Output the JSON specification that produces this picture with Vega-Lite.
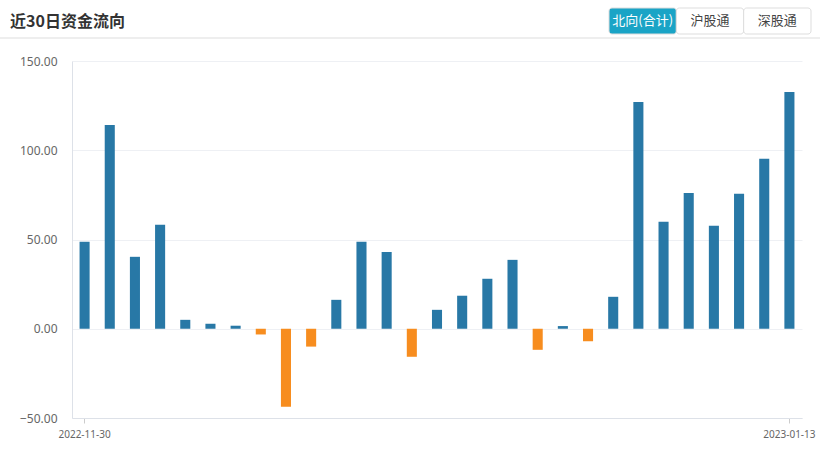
{
  "$schema": "https://vega.github.io/schema/vega-lite/v6.json",
  "width": 730,
  "height": 357,
  "autosize": {"type": "none"},
  "padding": {"left": 72, "top": 61, "right": 18, "bottom": 32},
  "background": "white",
  "config": {"view": {"stroke": null}, "font": "Noto Sans"},
  "title": {"text": "近30日资金流向", "anchor": "start", "frame": "group", "dx": -62, "dy": 19, "baseline": "bottom", "offset": -19, "fontSize": 16, "fontWeight": "bold", "color": "#333333", "font": "Noto Sans CJK SC"},
  "layer": [
    {
      "data": {"values": [
        {"date": "2022-11-30", "flow": 48.7},
        {"date": "2022-12-01", "flow": 114.2},
        {"date": "2022-12-02", "flow": 40.3},
        {"date": "2022-12-05", "flow": 58.2},
        {"date": "2022-12-06", "flow": 5.0},
        {"date": "2022-12-07", "flow": 2.8},
        {"date": "2022-12-08", "flow": 1.7},
        {"date": "2022-12-09", "flow": -3.2},
        {"date": "2022-12-12", "flow": -43.7},
        {"date": "2022-12-13", "flow": -10.0},
        {"date": "2022-12-14", "flow": 16.2},
        {"date": "2022-12-15", "flow": 48.7},
        {"date": "2022-12-16", "flow": 43.0},
        {"date": "2022-12-19", "flow": -15.7},
        {"date": "2022-12-20", "flow": 10.6},
        {"date": "2022-12-21", "flow": 18.5},
        {"date": "2022-12-22", "flow": 28.0},
        {"date": "2022-12-23", "flow": 38.6},
        {"date": "2022-12-29", "flow": -11.8},
        {"date": "2022-12-30", "flow": 1.5},
        {"date": "2023-01-03", "flow": -7.0},
        {"date": "2023-01-04", "flow": 17.9},
        {"date": "2023-01-05", "flow": 127.0},
        {"date": "2023-01-06", "flow": 60.0},
        {"date": "2023-01-09", "flow": 76.1},
        {"date": "2023-01-10", "flow": 57.7},
        {"date": "2023-01-11", "flow": 75.6},
        {"date": "2023-01-12", "flow": 95.2},
        {"date": "2023-01-13", "flow": 132.7}
      ]},
      "encoding": {
        "x": {"field": "date", "type": "ordinal", "sort": null,
          "scale": {"paddingInner": 0, "paddingOuter": 0},
          "axis": {"title": null, "values": ["2022-11-30", "2023-01-13"], "labelAngle": 0, "labelFontSize": 10, "labelColor": "#666666", "tickColor": "#cccccc", "tickSize": 5, "labelPadding": 6, "domainColor": "#dde1e8", "grid": false}}
      },
      "layer": [
        {
          "mark": {"type": "bar", "width": {"band": 0.4}},
          "encoding": {
            "y": {"field": "flow", "type": "quantitative",
              "scale": {"domain": [-50, 150], "nice": false},
              "axis": {"title": null, "values": [-50, 0, 50, 100, 150], "format": ".2f", "ticks": false, "labelPadding": 15, "labelFontSize": 12, "labelColor": "#666666", "domainColor": "#dde1e8", "gridColor": "#eef0f4"}},
            "color": {"condition": {"test": "datum.flow < 0", "value": "#f78d1f"}, "value": "#2878a6"}
          }
        },
        {
          "mark": {"type": "rule", "color": "#888888", "strokeWidth": 1},
          "encoding": {"y": {"datum": 0, "type": "quantitative"}}
        }
      ]
    },
    {
      "data": {"values": [
        {"button": "北向(合计)", "active": true},
        {"button": "沪股通", "active": false},
        {"button": "深股通", "active": false}
      ]},
      "encoding": {
        "x": {"field": "button", "type": "nominal", "sort": null, "scale": {"type": "band", "range": [537, 739], "paddingInner": 0, "paddingOuter": 0}, "axis": null},
        "y": {"datum": "按钮", "type": "nominal", "scale": {"type": "band", "range": [-53, -27], "paddingInner": 0, "paddingOuter": 0}, "axis": null}
      },
      "layer": [
        {
          "mark": {"type": "rect", "cornerRadius": 3, "stroke": "#dddddd", "strokeWidth": 1},
          "encoding": {
            "color": {"condition": {"test": "datum.active", "value": "#1aa4c6"}, "value": "#ffffff"}
          }
        },
        {
          "mark": {"type": "text", "fontSize": 13, "font": "Noto Sans CJK SC", "align": "center", "baseline": "middle"},
          "encoding": {
            "text": {"field": "button"},
            "color": {"condition": {"test": "datum.active", "value": "#ffffff"}, "value": "#444444"}
          }
        }
      ]
    },
    {
      "data": {"values": [{"line": "header"}]},
      "mark": {"type": "rule", "color": "#dddddd", "strokeWidth": 1},
      "encoding": {
        "x": {"datum": 0, "type": "quantitative", "scale": {"domain": [0, 1], "range": [-72, 748]}, "axis": null},
        "x2": {"datum": 1},
        "y": {"datum": 0, "type": "quantitative", "scale": {"domain": [0, 1], "range": [-23, -22]}, "axis": null}
      }
    }
  ],
  "resolve": {"scale": {"x": "independent", "y": "independent", "color": "independent"}, "axis": {"x": "independent", "y": "independent"}}
}
